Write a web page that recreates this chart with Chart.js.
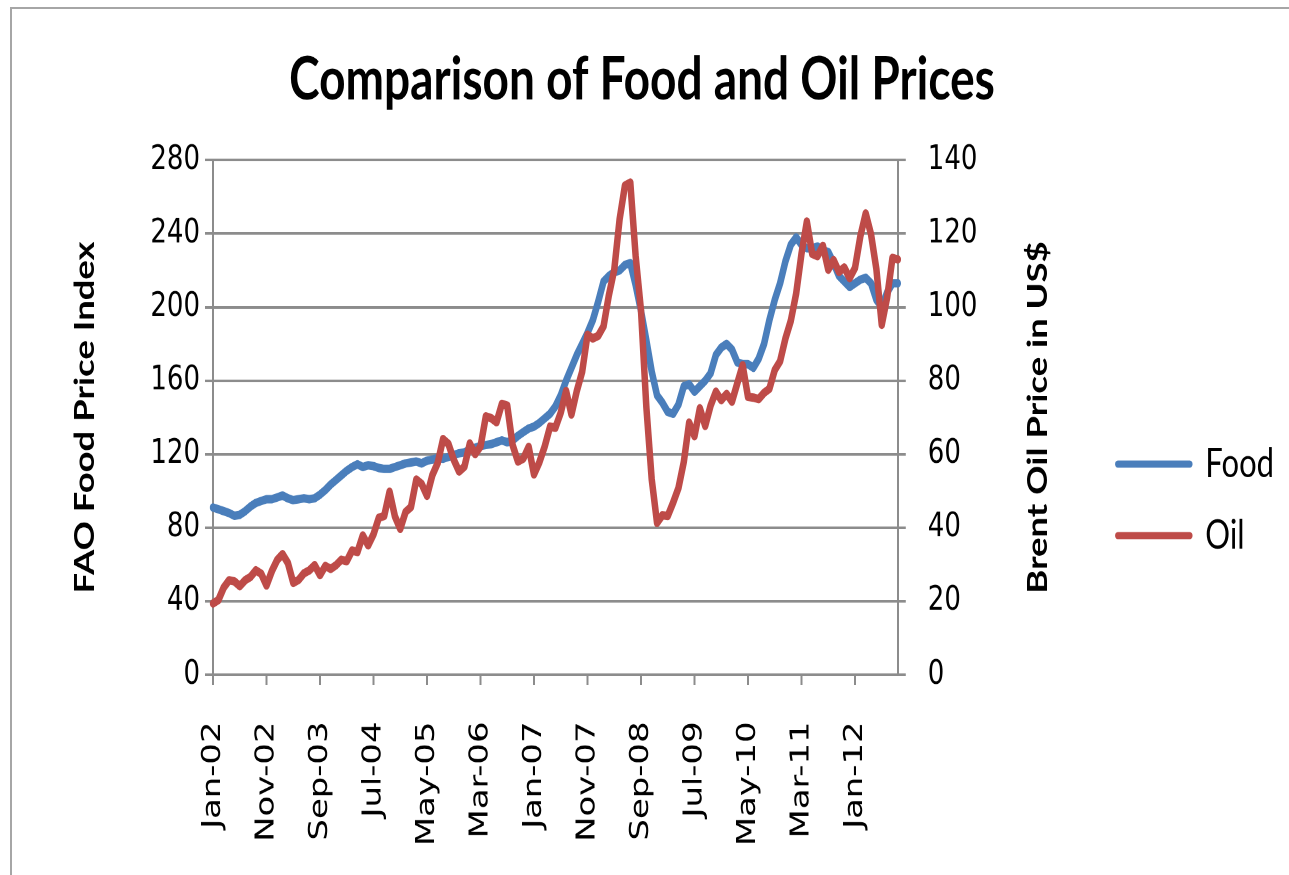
<!DOCTYPE html>
<html>
<head>
<meta charset="utf-8">
<title>Comparison of Food and Oil Prices</title>
<script src="https://cdn.jsdelivr.net/npm/chart.js@4.4.1/dist/chart.umd.min.js"></script>
<style>
  html, body { margin: 0; padding: 0; background: #fff; overflow: hidden; }
  #bingkai { position: absolute; left: 10px; top: 7px; width: 1300px; height: 900px;
             border-top: 2px solid #a6a6a6; border-left: 2px solid #a6a6a6; }
  /* the reference picture is stretched vertically, so the chart is too */
  #wadah { position: absolute; left: 0; top: 0; width: 1289px; height: 673px;
           transform: scaleY(1.3); transform-origin: 0 0; }
</style>
</head>
<body>
<div id="bingkai"></div>
<div id="wadah"><canvas id="chartHarga"></canvas></div>
<script>
// FAO food price index, monthly Jan-02 .. Sep-12
const foodIndex = [
  91, 90, 89, 88, 86.5, 87, 89, 91.5, 93.5, 94.5, 95.5, 95.5,
  96.5, 97.5, 96, 95, 95.5, 96, 95.5, 96, 98, 100.5, 103.5, 106,
  108.5, 111, 113, 114.5, 113, 114, 113.5, 112.5, 112, 112, 113, 114,
  115, 115.5, 116, 115, 116.5, 117, 118, 117.5, 118.5, 119.5, 120.5, 121,
  122.5, 123.5, 124.5, 125, 125.5, 126.5, 127.5, 126.5, 127.5, 130, 132, 134,
  135, 137, 139.5, 142, 146, 152, 160, 167, 174, 180, 186, 193,
  203, 214, 217, 219, 220, 223, 224, 212, 198, 182, 165, 152,
  148, 143, 142, 147, 157, 158, 154, 157, 160, 164, 174, 178,
  180, 177, 170, 169, 169, 167, 172, 180, 193, 204, 213, 225,
  234, 238, 234, 232, 232, 233, 231, 230, 224, 217, 214, 211,
  213, 215, 216, 213, 204, 200, 208, 213, 213
];

// Brent oil price in US$, monthly Jan-02 .. Sep-12
const oilPrice = [
  19.4, 20.3, 23.7, 25.7, 25.4, 24.1, 25.7, 26.6, 28.4, 27.5, 24.3, 28.2,
  31.2, 32.8, 30.4, 25.0, 25.8, 27.6, 28.4, 29.8, 27.1, 29.6, 28.8, 29.8,
  31.3, 30.9, 33.8, 33.4, 37.9, 35.2, 38.2, 42.7, 43.2, 49.8, 43.1, 39.7,
  44.3, 45.6, 53.1, 51.9, 48.7, 54.3, 57.6, 64.1, 62.8, 58.5, 55.3, 56.6,
  62.9, 60.0, 62.1, 70.3, 69.8, 68.7, 73.7, 73.2, 62.5, 58.0, 58.8, 62.0,
  54.5, 57.8, 62.1, 67.5, 67.2, 71.3, 77.2, 70.8, 77.2, 82.4, 92.5, 91.5,
  92.2, 94.8, 103.3, 110.2, 123.9, 133.1, 133.9, 113.9, 99.1, 72.8, 53.2, 41.3,
  43.4, 43.2, 46.8, 50.8, 57.9, 68.6, 64.9, 72.5, 67.7, 73.2, 77.0, 74.7,
  76.4, 74.3, 79.3, 84.2, 75.6, 75.4, 75.0, 76.7, 77.8, 82.9, 85.3, 91.5,
  96.3, 103.7, 114.6, 123.3, 114.5, 113.9, 116.7, 110.2, 112.8, 109.6, 110.8, 107.9,
  110.7, 119.3, 125.5, 119.8, 110.3, 95.2, 102.6, 113.4, 113.0
];

const namaBulan = ['Jan','Feb','Mar','Apr','May','Jun','Jul','Aug','Sep','Oct','Nov','Dec'];
const tickEvery = 10; // a label on every 10th month

// category labels Jan-02 .. Sep-12
const months = [];
for (let t = 0; t < foodIndex.length; t++) {
  months.push(namaBulan[t % 12] + '-' + String(2 + Math.floor(t / 12)).padStart(2, '0'));
}

const abu = '#8c8c8c';
const tebal = 6.5;
const hurufTick = { family: 'DejaVu Sans', size: 26 };
const hurufJudul = { family: 'Lato', size: 28, weight: 'bold' };

// chart.js turns a right-hand axis title the other way, so draw it here (bottom to top)
const judulKanan = {
  id: 'judulKanan',
  afterDraw(c) {
    const s = c.scales.yOil;
    const ctx = c.ctx;
    ctx.save();
    ctx.translate(s.right - 56, (s.top + s.bottom) / 2);
    ctx.rotate(-Math.PI / 2);
    ctx.font = 'bold 28px Lato';
    ctx.fillStyle = '#000';
    ctx.textAlign = 'center';
    ctx.textBaseline = 'middle';
    ctx.fillText('Brent Oil Price in US$', 0, 0);
    ctx.restore();
  }
};

let chart = new Chart(document.getElementById('chartHarga'), {
  type: 'line',
  data: {
    labels: months,
    datasets: [
      { label: 'Food', data: foodIndex, yAxisID: 'yFood', order: 1,
        borderColor: '#4a7ebb', backgroundColor: '#4a7ebb' },
      { label: 'Oil', data: oilPrice, yAxisID: 'yOil', order: 0,
        borderColor: '#be4b48', backgroundColor: '#be4b48' }
    ]
  },
  plugins: [judulKanan],
  options: {
    responsive: true,
    maintainAspectRatio: false,
    animation: false,
    devicePixelRatio: 2,
    layout: { padding: { left: 0, right: 5, top: 0, bottom: 0 } },
    elements: {
      point: { radius: 0 },
      line: { tension: 0, borderWidth: tebal, borderCapStyle: 'round', borderJoinStyle: 'round' }
    },
    plugins: {
      title: {
        display: true,
        text: 'Comparison of Food and Oil Prices',
        color: '#000',
        font: { family: 'Lato', size: 46, weight: 'bold' },
        padding: { top: 34, bottom: 34 }
      },
      legend: {
        position: 'right',
        title: { display: true, text: '', font: { size: 10 }, padding: 42 },
        labels: {
          usePointStyle: true, pointStyle: 'line', pointStyleWidth: 72,
          padding: 24, color: '#000',
          font: { family: 'Lato', size: 31 },
          sort: (a, b) => a.datasetIndex - b.datasetIndex,
          generateLabels: c => Chart.defaults.plugins.legend.labels.generateLabels(c)
            .map(it => Object.assign(it, { lineWidth: tebal - 1, lineCap: 'round' }))
        }
      },
      tooltip: { enabled: false }
    },
    scales: {
      x: {
        type: 'category',
        offset: false,
        grid: {
          drawOnChartArea: false, tickLength: 8, lineWidth: 2,
          color: c => c.index % tickEvery === 0 ? abu : 'rgba(0,0,0,0)'
        },
        border: { color: abu, width: 2 },
        ticks: {
          autoSkip: false, minRotation: 90, maxRotation: 90, padding: 28,
          color: '#000', font: hurufTick,
          callback: (v, i) => i % tickEvery === 0 ? months[i] : ''
        },
        afterFit: s => { s.height = 154; }
      },
      yFood: {
        position: 'left', min: 0, max: 280,
        ticks: { stepSize: 40, padding: 5, color: '#000', font: hurufTick },
        grid: { color: abu, lineWidth: 2, tickLength: 8 },
        border: { color: abu, width: 2 },
        title: { display: true, text: 'FAO Food Price Index', color: '#000', font: hurufJudul,
                 padding: { top: 68, bottom: 0 } },
        afterFit: s => { s.width = 213; }
      },
      yOil: {
        position: 'right', min: 0, max: 140,
        ticks: { stepSize: 20, padding: 22, color: '#000', font: hurufTick },
        grid: { drawOnChartArea: false, color: abu, lineWidth: 2, tickLength: 8 },
        border: { color: abu, width: 2 },
        afterFit: s => { s.width = 196; }
      }
    }
  }
});
</script>
</body>
</html>
